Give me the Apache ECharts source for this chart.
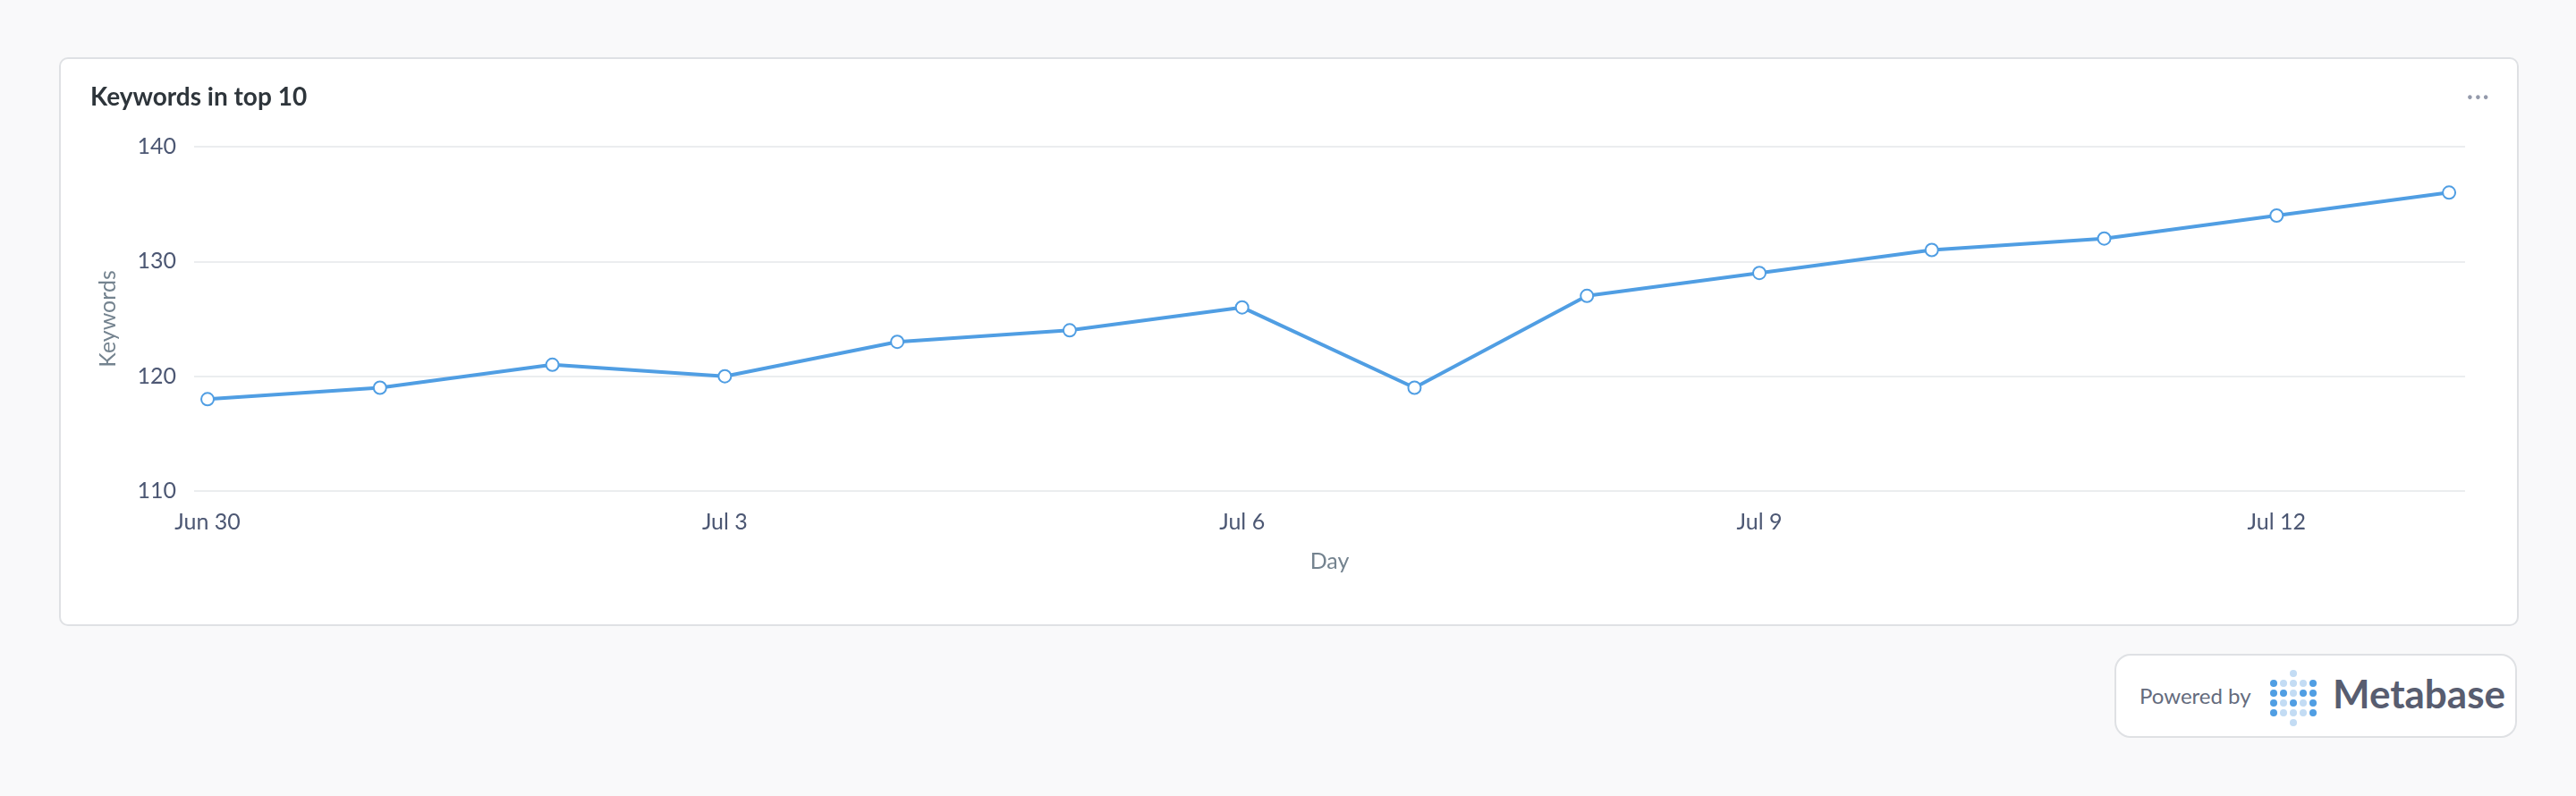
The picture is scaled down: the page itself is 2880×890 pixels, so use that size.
<!DOCTYPE html>
<html>
<head>
<meta charset="utf-8">
<script src="https://cdn.jsdelivr.net/npm/echarts@6/dist/echarts.min.js"></script>
<style>
  body { margin: 0; background: #f9f9fa; width: 2880px; height: 890px; position: relative; font-family: Lato, sans-serif; overflow: hidden; }
  #card { position: absolute; left: 66px; top: 64px; width: 2746px; height: 632px; background: #fff; border: 2px solid #dfe1e4; border-radius: 10px; }
  #chart { width: 100%; height: 100%; }
  #dots { position: absolute; right: 30px; top: 22px; color: #949aab; font-size: 30px; letter-spacing: 1px; }
  #badge { position: absolute; left: 2364px; top: 731px; width: 446px; height: 90px; background: #fff; border: 2px solid #dfe1e4; border-radius: 18px; }
  #badge .pw { position: absolute; left: 26px; top: 30px; font-size: 24px; color: #646b7d; }
  #badge .mb { position: absolute; left: 242px; top: 16px; font-size: 44px; font-weight: 700; color: #585d70; }
  .d { position: absolute; width: 8px; height: 8px; border-radius: 50%; }
</style>
</head>
<body>
<div id="card"><div id="chart"></div><div id="dots">···</div></div>
<div id="badge"><span class="pw">Powered by</span><div id="logo"></div><span class="mb">Metabase</span></div>
<script>
const days = ['Jun 30', 'Jul 1', 'Jul 2', 'Jul 3', 'Jul 4', 'Jul 5', 'Jul 6', 'Jul 7', 'Jul 8', 'Jul 9', 'Jul 10', 'Jul 11', 'Jul 12', 'Jul 13'];
const keywords = [118, 119, 121, 120, 123, 124, 126, 119, 127, 129, 131, 132, 134, 136];
const xTicks = [0, 3, 6, 9, 12];

// logo dots
const pattern = [[1,0,0,0,1],[1,1,0,1,1],[1,0,1,0,1],[1,0,0,0,1]];
const logo = document.getElementById('logo');
function dot(x, y, dark) {
  let el = document.createElement('div');
  el.className = 'd';
  el.style.left = x + 'px'; el.style.top = y + 'px';
  el.style.background = dark ? '#509ee3' : '#c3dcf4';
  logo.appendChild(el);
}
pattern.forEach((row, r) => row.forEach((v, c) => dot(172 + c * 11, 27 + r * 11, v)));
dot(194, 16, 0); dot(194, 71, 0);

let chart = echarts.init(document.getElementById('chart'));
let option = {
  title: {
    text: 'Keywords in top 10', left: 28, top: 24,
    textStyle: { fontFamily: 'Lato', fontSize: 28, fontWeight: 'bold', color: '#2e353b' }
  },
  grid: { left: 149, right: 58, top: 98, bottom: 149 },
  xAxis: {
    type: 'value', min: -0.078, max: 13.093,
    name: 'Day', nameLocation: 'middle', nameGap: 66,
    nameTextStyle: { fontFamily: 'Lato', fontSize: 25, color: '#74838f' },
    axisLine: { show: false }, axisTick: { show: false }, splitLine: { show: false },
    axisLabel: {
      customValues: xTicks, margin: 22,
      fontFamily: 'Lato', fontSize: 25, color: '#4c5773',
      formatter: v => days[Math.round(v)]
    }
  },
  yAxis: {
    type: 'value', min: 110, max: 140, interval: 10,
    name: 'Keywords', nameLocation: 'middle', nameGap: 84,
    nameTextStyle: { fontFamily: 'Lato', fontSize: 25, color: '#74838f' },
    axisLine: { show: false }, axisTick: { show: false },
    axisLabel: { fontFamily: 'Lato', fontSize: 25, color: '#4c5773', margin: 20 },
    splitLine: { lineStyle: { color: '#ebedef', width: 2 } }
  },
  series: [{
    type: 'line',
    data: keywords.map((v, i) => [i, v]),
    symbol: 'emptyCircle', symbolSize: 14,
    lineStyle: { color: '#509ee3', width: 4 },
    itemStyle: { color: '#509ee3', borderWidth: 3 },
    animation: false
  }]
};
chart.setOption(option);
</script>
</body>
</html>
